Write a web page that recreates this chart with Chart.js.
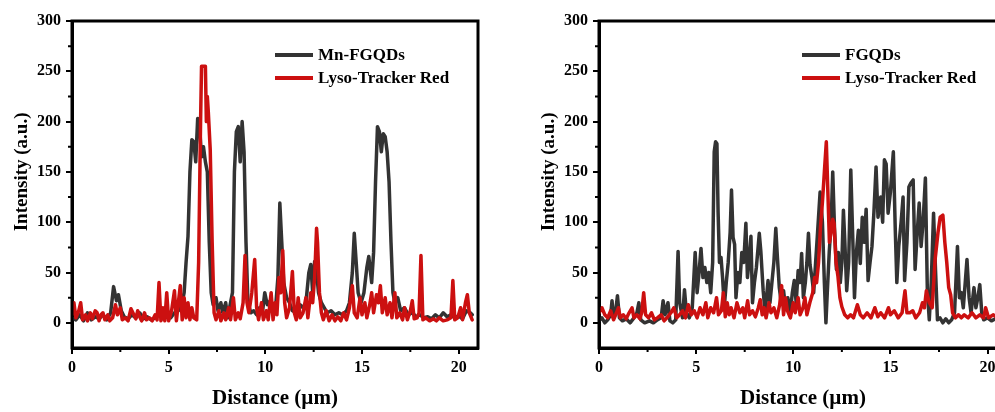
<!DOCTYPE html>
<html>
<head>
<meta charset="utf-8">
<script src="https://cdn.jsdelivr.net/npm/chart.js@4.4.0/dist/chart.umd.min.js"></script>
<style>
  body { margin:0; width:995px; height:412px; overflow:hidden; position:relative; background:#fff; font-family:"Liberation Serif", serif; }
  .box { position:absolute; top:0; height:412px; }
  .lg { position:absolute; font-weight:bold; font-size:17px; color:#000; }
  .lg div { height:23px; line-height:23px; white-space:nowrap; }
  .lg span { display:inline-block; width:38px; height:4px; vertical-align:middle; margin-right:5px; position:relative; top:-1px; }
</style>
</head>
<body>

<div class="box" style="left:0;width:495px"><canvas id="leftChart"></canvas></div>
<div class="box" style="left:527px;width:497px"><canvas id="rightChart"></canvas></div>

<div class="lg" style="left:275px;top:43px">
  <div><span style="background:#333"></span>Mn-FGQDs</div>
  <div><span style="background:#cc1010"></span>Lyso-Tracker Red</div>
</div>
<div class="lg" style="left:802px;top:43px">
  <div><span style="background:#333"></span>FGQDs</div>
  <div><span style="background:#cc1010"></span>Lyso-Tracker Red</div>
</div>

<script>
// ### DATA (distance in µm, intensity in a.u.) ###

const xTicks = [0, 5, 10, 15, 20];
const yTicks = [0, 50, 100, 150, 200, 250, 300];
const xMinor = [2.5, 7.5, 12.5, 17.5];
const yMinor = [25, 75, 125, 175, 225, 275];

// left panel - Mn-FGQDs
const mnFGQDs = [[0,5],[0.2,3],[0.4,8],[0.6,2],[0.8,10],[1.0,3],[1.2,6],[1.4,4],[1.6,8],[1.8,3],[2.0,10],[2.15,36],[2.3,22],[2.4,28],[2.55,12],[2.7,6],[2.9,4],[3.1,8],[3.3,5],[3.5,10],[3.7,4],[3.9,6],[4.1,3],[4.3,5],[4.5,8],[4.7,4],[4.9,6],[5.1,5],[5.3,10],[5.5,12],[5.7,20],[5.8,30],[5.9,60],[6.0,86],[6.1,150],[6.2,182],[6.3,180],[6.4,160],[6.5,203],[6.6,195],[6.7,165],[6.8,175],[6.9,160],[7.0,150],[7.1,80],[7.2,30],[7.3,18],[7.45,25],[7.55,12],[7.7,20],[7.8,10],[7.95,20],[8.05,5],[8.15,15],[8.3,30],[8.4,150],[8.5,190],[8.6,195],[8.7,160],[8.8,200],[8.9,170],[9.0,80],[9.1,20],[9.25,10],[9.4,12],[9.55,8],[9.7,15],[9.85,10],[9.97,30],[10.1,18],[10.25,22],[10.4,8],[10.55,20],[10.65,45],[10.75,119],[10.85,80],[10.95,40],[11.1,25],[11.25,20],[11.4,12],[11.6,10],[11.8,18],[11.95,15],[12.1,20],[12.25,50],[12.35,58],[12.45,30],[12.55,61],[12.65,50],[12.75,30],[12.9,20],[13.05,15],[13.2,10],[13.4,12],[13.6,8],[13.8,10],[14.0,8],[14.2,12],[14.35,20],[14.5,50],[14.6,89],[14.7,60],[14.8,30],[14.95,20],[15.1,30],[15.25,55],[15.35,66],[15.5,40],[15.6,70],[15.7,140],[15.8,195],[15.9,190],[16.0,170],[16.1,188],[16.2,185],[16.3,170],[16.4,140],[16.5,80],[16.6,30],[16.7,20],[16.85,25],[17.0,12],[17.2,15],[17.4,8],[17.6,10],[17.8,6],[18.0,8],[18.2,5],[18.4,6],[18.6,4],[18.8,8],[19.0,5],[19.2,10],[19.4,6],[19.6,8],[19.8,5],[20.0,7],[20.2,4],[20.4,12],[20.6,10],[20.7,8]];

// left panel - Lyso-Tracker Red
const lysoLeft = [[0,8],[0.1,20],[0.2,5],[0.35,12],[0.45,20],[0.55,3],[0.7,8],[0.8,2],[0.95,10],[1.05,4],[1.2,12],[1.3,10],[1.4,2],[1.5,8],[1.6,10],[1.7,3],[1.85,8],[1.95,2],[2.1,5],[2.25,18],[2.35,8],[2.5,15],[2.6,3],[2.75,5],[2.9,2],[3.05,14],[3.15,10],[3.3,4],[3.4,12],[3.5,6],[3.6,2],[3.75,10],[3.85,3],[4.0,5],[4.15,2],[4.3,8],[4.4,3],[4.5,40],[4.6,2],[4.7,15],[4.8,2],[4.9,30],[5.0,2],[5.15,12],[5.3,32],[5.4,2],[5.5,20],[5.6,37],[5.7,3],[5.8,25],[5.9,5],[6.0,20],[6.1,3],[6.2,15],[6.3,5],[6.45,3],[6.55,60],[6.65,200],[6.7,255],[6.8,255],[6.9,255],[6.95,200],[7.0,225],[7.05,210],[7.15,172],[7.25,80],[7.35,10],[7.45,3],[7.6,12],[7.7,2],[7.85,10],[7.95,3],[8.1,15],[8.2,3],[8.35,25],[8.45,3],[8.6,10],[8.7,4],[8.85,20],[8.95,67],[9.05,20],[9.15,10],[9.3,30],[9.45,63],[9.55,15],[9.65,3],[9.8,20],[9.9,3],[10.05,12],[10.15,3],[10.3,30],[10.4,3],[10.5,20],[10.6,8],[10.7,45],[10.8,30],[10.9,72],[11.0,20],[11.1,5],[11.25,15],[11.4,51],[11.5,10],[11.6,3],[11.7,25],[11.8,5],[11.95,10],[12.1,25],[12.2,5],[12.35,30],[12.45,20],[12.55,45],[12.65,94],[12.7,80],[12.8,30],[12.9,10],[13.0,3],[13.15,12],[13.3,2],[13.45,8],[13.6,2],[13.75,6],[13.9,2],[14.05,10],[14.2,3],[14.35,15],[14.5,37],[14.6,10],[14.75,5],[14.9,25],[15.0,8],[15.15,20],[15.25,5],[15.4,18],[15.5,30],[15.6,10],[15.75,28],[15.85,20],[15.95,37],[16.05,10],[16.2,25],[16.3,8],[16.45,20],[16.55,5],[16.7,30],[16.8,5],[16.95,10],[17.1,3],[17.2,15],[17.35,3],[17.5,12],[17.6,22],[17.7,4],[17.85,5],[17.95,10],[18.05,67],[18.15,3],[18.3,5],[18.5,2],[18.7,4],[18.85,2],[19.0,5],[19.2,2],[19.4,3],[19.6,5],[19.7,42],[19.8,3],[19.95,5],[20.1,15],[20.2,3],[20.35,20],[20.45,28],[20.55,10],[20.7,3]];

// right panel - FGQDs
const fGQDs = [[0,2],[0.15,5],[0.3,0],[0.45,3],[0.6,8],[0.67,22],[0.75,5],[0.85,10],[0.95,27],[1.05,5],[1.2,2],[1.4,4],[1.6,0],[1.8,5],[1.95,10],[2.05,20],[2.15,3],[2.35,0],[2.6,2],[2.8,0],[3.0,3],[3.2,5],[3.3,22],[3.4,8],[3.55,20],[3.65,2],[3.8,0],[3.95,3],[4.07,71],[4.15,20],[4.3,5],[4.4,33],[4.5,10],[4.65,5],[4.8,15],[4.95,70],[5.05,30],[5.15,50],[5.25,74],[5.35,45],[5.45,55],[5.55,40],[5.65,50],[5.75,30],[5.85,60],[5.93,170],[6.0,180],[6.07,178],[6.13,110],[6.2,60],[6.28,65],[6.36,45],[6.45,16],[6.55,40],[6.65,60],[6.75,90],[6.82,132],[6.9,85],[6.98,78],[7.05,25],[7.15,50],[7.25,40],[7.35,70],[7.45,60],[7.56,99],[7.64,45],[7.72,60],[7.82,86],[7.9,20],[8.0,40],[8.1,55],[8.25,89],[8.33,71],[8.45,32],[8.55,10],[8.7,42],[8.8,20],[8.9,40],[9.0,60],[9.1,94],[9.18,66],[9.28,35],[9.38,20],[9.5,32],[9.6,15],[9.72,25],[9.85,10],[9.95,30],[10.05,42],[10.15,20],[10.25,52],[10.35,40],[10.43,69],[10.52,25],[10.62,40],[10.7,60],[10.78,89],[10.86,58],[10.96,45],[11.05,30],[11.15,60],[11.25,90],[11.38,130],[11.5,100],[11.6,40],[11.68,0],[11.75,30],[11.85,70],[11.95,100],[12.03,150],[12.12,95],[12.22,53],[12.32,70],[12.42,40],[12.5,60],[12.58,112],[12.65,82],[12.75,32],[12.85,60],[12.96,152],[13.05,92],[13.15,25],[13.25,70],[13.35,92],[13.45,59],[13.55,105],[13.65,80],[13.75,113],[13.85,42],[13.95,60],[14.05,76],[14.15,110],[14.26,155],[14.36,105],[14.5,125],[14.6,100],[14.69,162],[14.78,158],[14.88,109],[15.0,130],[15.15,170],[15.25,92],[15.33,40],[15.43,76],[15.55,100],[15.65,125],[15.73,42],[15.85,80],[15.95,135],[16.05,139],[16.17,142],[16.27,53],[16.38,90],[16.48,119],[16.58,76],[16.68,100],[16.8,144],[16.9,32],[17.0,3],[17.1,40],[17.22,109],[17.32,53],[17.42,3],[17.55,5],[17.7,0],[17.85,4],[18.0,0],[18.15,3],[18.3,10],[18.45,76],[18.55,25],[18.65,30],[18.75,15],[18.85,40],[18.94,63],[19.05,25],[19.15,10],[19.3,35],[19.4,15],[19.5,25],[19.6,38],[19.7,10],[19.8,3],[20.0,5],[20.2,2],[20.5,5],[20.8,3]];

// right panel - Lyso-Tracker Red
const lysoRight = [[0,10],[0.15,15],[0.3,8],[0.45,5],[0.6,12],[0.75,3],[0.9,10],[1.0,15],[1.1,5],[1.25,8],[1.4,4],[1.55,10],[1.7,15],[1.8,5],[1.95,8],[2.1,4],[2.2,10],[2.3,30],[2.4,8],[2.55,5],[2.7,10],[2.85,3],[3.0,5],[3.2,8],[3.35,2],[3.5,5],[3.7,10],[3.85,15],[4.0,5],[4.15,8],[4.3,12],[4.45,5],[4.6,18],[4.75,8],[4.9,12],[5.05,5],[5.2,15],[5.35,8],[5.5,20],[5.6,5],[5.75,15],[5.9,10],[6.05,25],[6.15,8],[6.3,12],[6.4,30],[6.5,6],[6.6,20],[6.7,8],[6.8,15],[6.95,5],[7.1,20],[7.25,10],[7.4,15],[7.5,5],[7.65,22],[7.75,8],[7.9,12],[8.05,6],[8.2,15],[8.3,23],[8.4,8],[8.5,15],[8.6,5],[8.75,20],[8.85,10],[9.0,15],[9.15,5],[9.3,18],[9.4,37],[9.5,8],[9.6,25],[9.7,12],[9.85,5],[10.0,20],[10.1,10],[10.25,25],[10.35,8],[10.5,15],[10.6,25],[10.7,8],[10.85,20],[11.0,30],[11.1,45],[11.2,40],[11.3,60],[11.4,95],[11.5,120],[11.6,150],[11.7,180],[11.78,130],[11.86,80],[11.95,90],[12.03,103],[12.1,99],[12.2,60],[12.3,46],[12.4,25],[12.5,16],[12.65,8],[12.8,5],[12.95,8],[13.1,5],[13.3,18],[13.45,8],[13.6,5],[13.8,10],[14.0,5],[14.2,15],[14.35,6],[14.5,10],[14.7,5],[14.9,15],[15.0,8],[15.2,12],[15.4,5],[15.6,10],[15.75,32],[15.85,10],[16.0,10],[16.15,12],[16.3,5],[16.5,10],[16.65,20],[16.75,15],[16.85,32],[17.0,20],[17.15,15],[17.3,63],[17.45,90],[17.56,105],[17.7,107],[17.8,80],[17.9,60],[18.0,35],[18.1,28],[18.2,10],[18.35,5],[18.5,8],[18.65,5],[18.8,8],[19.0,5],[19.2,10],[19.4,5],[19.6,8],[19.8,5],[19.9,15],[20.05,5],[20.3,8],[20.5,5],[20.8,8]];


// ### STYLE ###

const dark = '#333333';
const red = '#cc1010';
const serif = '"Liberation Serif", "Times New Roman", serif';

// frame (top/right border), minor ticks and the y title
const framePlugin = {
  id: 'frame',
  afterDraw(chart) {
    const ctx = chart.ctx;
    const a = chart.chartArea;
    const sx = chart.scales.x, sy = chart.scales.y;
    ctx.save();
    ctx.strokeStyle = '#000';
    ctx.lineWidth = 3;
    ctx.strokeRect(a.left, a.top, a.right - a.left, a.bottom - a.top);

    ctx.lineWidth = 2;
    ctx.beginPath();
    yMinor.forEach(function(v) {
      const y = sy.getPixelForValue(v);
      ctx.moveTo(a.left - 4, y);
      ctx.lineTo(a.left, y);
    });
    xMinor.forEach(function(v) {
      const x = sx.getPixelForValue(v);
      ctx.moveTo(x, a.bottom);
      ctx.lineTo(x, a.bottom + 4);
    });
    ctx.stroke();

    ctx.translate(22, sy.getPixelForValue(150));
    ctx.rotate(-Math.PI / 2);
    ctx.fillStyle = '#000';
    ctx.font = 'bold 19px ' + serif;
    ctx.textAlign = 'center';
    ctx.textBaseline = 'middle';
    ctx.fillText('Intensity (a.u.)', 0, 0);
    ctx.restore();
  }
};

function makeChart(id, darkData, redData) {
  return new Chart(document.getElementById(id), {
    type: 'line',
    data: {
      datasets: [{
        data: darkData.map(p => ({x: p[0], y: p[1]})),
        borderColor: dark,
        borderWidth: 3.5,
        borderJoinStyle: 'round',
        borderCapStyle: 'round',
        pointRadius: 0,
        tension: 0,
        order: 2
      }, {
        data: redData.map(p => ({x: p[0], y: p[1]})),
        borderColor: red,
        borderWidth: 3.5,
        borderJoinStyle: 'round',
        borderCapStyle: 'round',
        pointRadius: 0,
        tension: 0,
        order: 1
      }]
    },
    options: {
      responsive: true,
      maintainAspectRatio: false,
      animation: false,
      layout: { padding: { top: 21, right: 17, left: 0, bottom: 0 } },
      plugins: { legend: { display: false }, tooltip: { enabled: false } },
      scales: {
        x: {
          type: 'linear',
          min: 0,
          max: 21,
          afterBuildTicks: s => { s.ticks = xTicks.map(v => ({value: v})); },
          afterFit: s => { s.height = 64; },
          ticks: { autoSkip: false, color: '#000', padding: 4, font: { family: serif, size: 16, weight: 'bold' } },
          grid: { drawOnChartArea: false, drawTicks: true, tickLength: 6, color: '#000', lineWidth: 2 },
          border: { display: true, color: '#000', width: 3 },
          title: { display: true, text: 'Distance (µm)', color: '#000', padding: { top: 0, bottom: 1 },
                   font: { family: serif, size: 21, weight: 'bold' } }
        },
        y: {
          min: -25,
          max: 300,
          afterBuildTicks: s => { s.ticks = yTicks.map(v => ({value: v})); },
          afterFit: s => { s.width = 72; },
          ticks: { autoSkip: false, color: '#000', padding: 5, font: { family: serif, size: 16, weight: 'bold' } },
          grid: { drawOnChartArea: false, drawTicks: true, tickLength: 6, color: '#000', lineWidth: 2 },
          border: { display: true, color: '#000', width: 3 }
        }
      }
    },
    plugins: [framePlugin]
  });
}

const leftChart = makeChart('leftChart', mnFGQDs, lysoLeft);
const rightChart = makeChart('rightChart', fGQDs, lysoRight);
</script>
</body>
</html>
